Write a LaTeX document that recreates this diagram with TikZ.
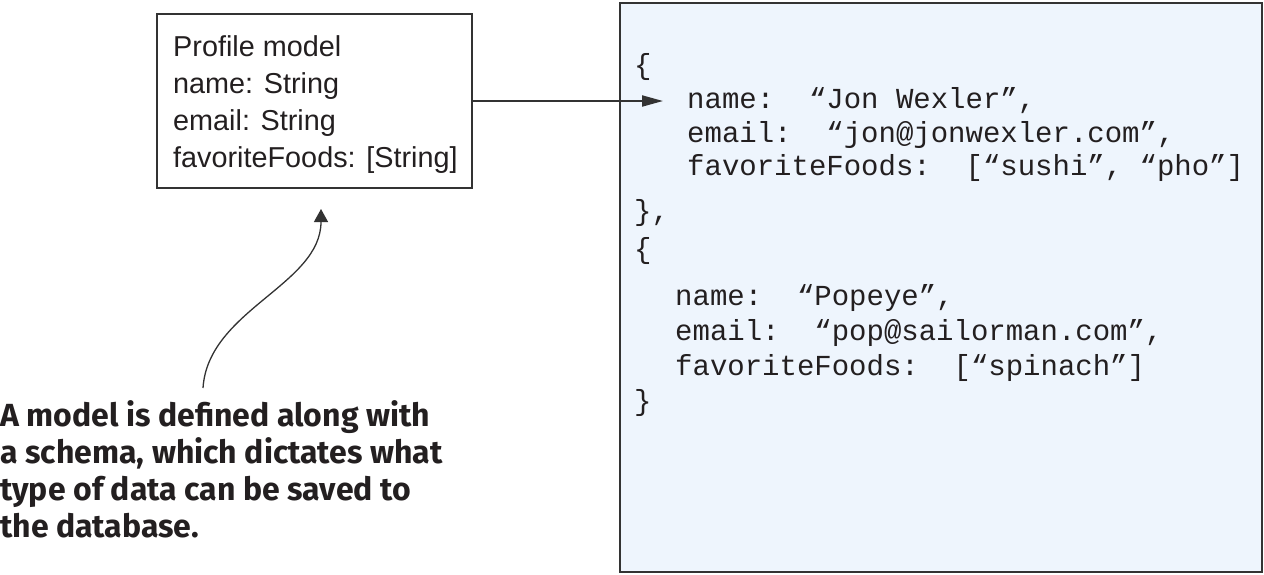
\documentclass[tikz,border=0pt]{standalone}
\usepackage{fontspec}
\setmainfont{Liberation Sans}
\newfontfamily\codefont{Liberation Mono}
\newfontfamily\capfont{Fira Sans}
\usetikzlibrary{arrows.meta}
\definecolor{ink}{HTML}{231F20}
\definecolor{edge}{HTML}{333333}
\definecolor{paleblue}{HTML}{EEF5FD}
\tikzset{
  boxline/.style={draw=edge, line width=2pt},
  modeltext/.style={anchor=base west, inner sep=0pt, text=ink, font=\fontsize{28.8}{34}\selectfont},
  codetext/.style={anchor=base west, inner sep=0pt, text=ink, font=\codefont\fontsize{29}{34}\selectfont},
  captext/.style={anchor=base west, inner sep=0pt, text=ink, font=\capfont\bfseries\fontsize{32}{37}\selectfont},
}
\begin{document}
\begin{tikzpicture}[x=1pt, y=-1pt]
\useasboundingbox (0,0) rectangle (1264,574);
% JSON box
\node[boxline, fill=paleblue, minimum width=642pt, minimum height=569pt, inner sep=0pt] (json) at (940.5,287) {};
% model box
\node[boxline, minimum width=315pt, minimum height=174pt, inner sep=0pt] (model) at (314.5,101) {};
\node[modeltext] (m1) at (173,56) {Profile model};
\node[modeltext] (m2) at (173,93) {name: String};
\node[modeltext] (m3) at (173,130) {email: String};
\node[modeltext] (m4) at (173,167) {favoriteFoods: [String]};
% code lines
\node[codetext] (c1) at (634,74) {\{};
\node[codetext] (c2) at (687,108) {name:\ \ “Jon Wexler”,};
\node[codetext] (c3) at (687,142) {email:\ \ “jon@jonwexler.com”,};
\node[codetext] (c4) at (687,175) {favoriteFoods:\ \ [“sushi”, “pho”]};
\node[codetext] (c5) at (634,220) {\},};
\node[codetext] (c6) at (634,258) {\{};
\node[codetext] (c7) at (675,305) {name:\ \ “Popeye”,};
\node[codetext] (c8) at (675,340) {email:\ \ “pop@sailorman.com”,};
\node[codetext] (c9) at (675,375) {favoriteFoods:\ \ [“spinach”]};
\node[codetext] (c10) at (634,410) {\}};
% caption
\node[captext] (cap1) at (0,426) {A model is defined along with};
\node[captext] (cap2) at (0,463) {a schema, which dictates what};
\node[captext] (cap3) at (0,500) {type of data can be saved to};
\node[captext] (cap4) at (0,537) {the database.};
% connectors
\coordinate (tip) at (663,101);
\draw[edge, line width=2pt, -{Triangle[length=21pt, width=11pt]}] (model.east) -- (tip);
\coordinate (capTop) at (203,388);
\coordinate (modelBelow) at (321,209);
\draw[edge, line width=1.3pt, -{Triangle[length=13pt, width=14pt]}] (capTop) .. controls (208,310) and (321,285) .. (modelBelow);
\end{tikzpicture}
\end{document}
